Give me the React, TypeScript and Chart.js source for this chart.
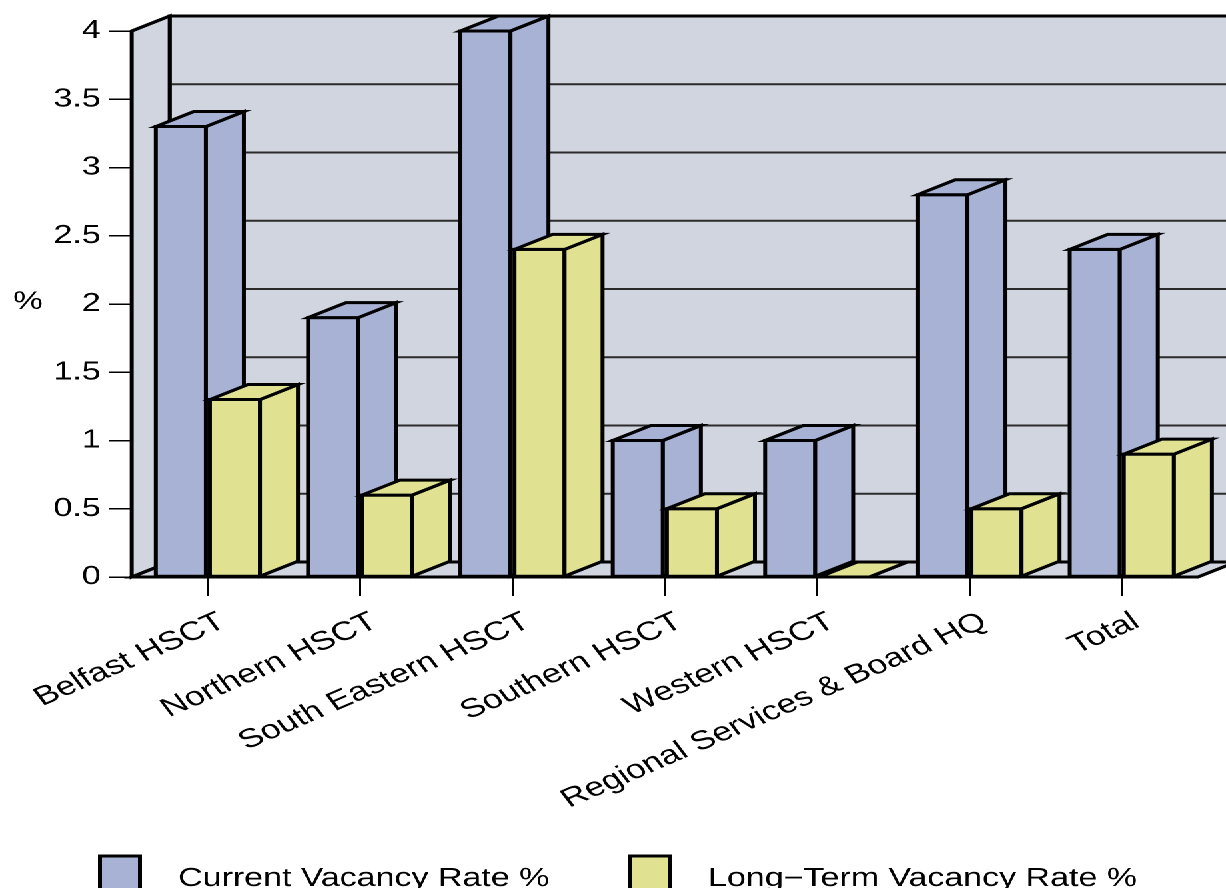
import React, { useEffect, useRef } from "react";
import { Chart, registerables } from "chart.js";

Chart.register(...registerables);

// ---- data ----
const categories = [
  "Belfast HSCT",
  "Northern HSCT",
  "South Eastern HSCT",
  "Southern HSCT",
  "Western HSCT",
  "Regional Services & Board HQ",
  "Total",
];
const currentRate = [3.3, 1.9, 4.0, 1.0, 1.0, 2.8, 2.4];
const longTermRate = [1.3, 0.6, 2.4, 0.5, 0.0, 0.5, 0.9];
const seriesNames = ["Current Vacancy Rate %", "Long\u2212Term Vacancy Rate %"];
const yTickValues = [0, 0.5, 1, 1.5, 2, 2.5, 3, 3.5, 4];
const yTickLabels = ["0", "0.5", "1", "1.5", "2", "2.5", "3", "3.5", "4"];
const yAxisTitle = "%";

// ---- style ----
const BASE_W = 920;
const H = 888;
const STRETCH = 1226 / BASE_W;
const DX = 28.5;
const DY = -15;
const WALL = "#D1D5E0";
const BLUE = "#A8B2D4";
const YELLOW = "#E0E291";
const FONT = "'Liberation Sans', Arial, sans-serif";
const seriesColors = [BLUE, YELLOW];

function poly(ctx: CanvasRenderingContext2D, pts: number[][], fill: string, lw = 3) {
  ctx.beginPath();
  ctx.moveTo(pts[0][0], pts[0][1]);
  for (let i = 1; i < pts.length; i++) ctx.lineTo(pts[i][0], pts[i][1]);
  ctx.closePath();
  ctx.fillStyle = fill;
  ctx.fill();
  ctx.lineWidth = lw;
  ctx.strokeStyle = "#000";
  ctx.stroke();
}

const threeD = {
  id: "threeD",
  beforeDatasetsDraw(chart: any) {
    const { ctx, chartArea } = chart;
    const { left, right, top, bottom } = chartArea;
    const y = chart.scales.y;
    ctx.save();
    ctx.lineJoin = "miter";
    // back wall
    poly(ctx, [
      [left + DX, top + DY],
      [right + DX, top + DY],
      [right + DX, bottom + DY],
      [left + DX, bottom + DY],
    ], WALL);
    // gridlines on back wall
    ctx.strokeStyle = "#2b2b2b";
    ctx.lineWidth = 2;
    for (const v of yTickValues) {
      if (v === 0 || v === 4) continue;
      const py = y.getPixelForValue(v) + DY;
      ctx.beginPath();
      ctx.moveTo(left + DX, py);
      ctx.lineTo(right + DX, py);
      ctx.stroke();
    }
    // left wall
    poly(ctx, [
      [left, top],
      [left + DX, top + DY],
      [left + DX, bottom + DY],
      [left, bottom],
    ], WALL);
    // floor
    poly(ctx, [
      [left, bottom],
      [right, bottom],
      [right + DX, bottom + DY],
      [left + DX, bottom + DY],
    ], WALL);
    ctx.restore();
  },
  afterDatasetsDraw(chart: any) {
    const { ctx } = chart;
    ctx.save();
    ctx.lineJoin = "miter";
    const metas = [chart.getDatasetMeta(0), chart.getDatasetMeta(1)];
    for (let i = 0; i < categories.length; i++) {
      for (let j = 0; j < metas.length; j++) {
        const el = metas[j].data[i];
        const { x, y, base, width } = el.getProps(["x", "y", "base", "width"], true);
        const l = x - width / 2;
        const r = x + width / 2;
        const c = seriesColors[j];
        poly(ctx, [[l, y], [r, y], [r, base], [l, base]], c);
        poly(ctx, [[r, base], [r + DX, base + DY], [r + DX, y + DY], [r, y]], c);
        poly(ctx, [[l, y], [l + DX, y + DY], [r + DX, y + DY], [r, y]], c);
      }
    }
    ctx.restore();
  },
  afterDraw(chart: any) {
    const { ctx } = chart;
    const y = chart.scales.y;
    ctx.save();
    ctx.fillStyle = "#000";
    ctx.font = `25px ${FONT}`;
    ctx.textAlign = "center";
    ctx.textBaseline = "middle";
    ctx.fillText(yAxisTitle, 21, y.getPixelForValue(2) - 2);
    // legend
    const boxes = [75, 472.5];
    const texts = [133.6, 531.3];
    ctx.font = `25.5px ${FONT}`;
    for (let j = 0; j < seriesNames.length; j++) {
      ctx.lineJoin = "miter";
      poly(ctx, [[boxes[j], 856], [boxes[j] + 30, 856], [boxes[j] + 30, 900], [boxes[j], 900]], seriesColors[j]);
      ctx.fillStyle = "#000";
      ctx.textAlign = "left";
      ctx.textBaseline = "alphabetic";
      ctx.fillText(seriesNames[j], texts[j], 886);
    }
    ctx.restore();
  },
};

export default function App() {
  const ref = useRef<HTMLCanvasElement>(null);
  useEffect(() => {
    const canvas = ref.current!;
    const chart = new Chart(canvas, {
      type: "bar",
      data: {
        labels: categories,
        datasets: [
          {
            label: seriesNames[0],
            data: currentRate,
            backgroundColor: "rgba(0,0,0,0)",
            borderWidth: 0,
            categoryPercentage: 0.71,
            barPercentage: 0.926,
          },
          {
            label: seriesNames[1],
            data: longTermRate,
            backgroundColor: "rgba(0,0,0,0)",
            borderWidth: 0,
            categoryPercentage: 0.71,
            barPercentage: 0.926,
          },
        ],
      },
      options: {
        responsive: false,
        animation: false,
        devicePixelRatio: 2,
        events: [],
        layout: { padding: { top: 31, right: 21, left: 0, bottom: 0 } },
        plugins: { legend: { display: false }, tooltip: { enabled: false } },
        scales: {
          x: {
            offset: true,
            grid: {
              display: true,
              offset: false,
              drawOnChartArea: false,
              drawTicks: true,
              tickLength: 19,
              color: "#000",
              lineWidth: 1.5,
            },
            border: { display: false },
            ticks: {
              autoSkip: false,
              maxRotation: 30,
              minRotation: 30,
              color: "#000",
              padding: 10,
              labelOffset: 11,
              font: { family: FONT, size: 26.5 },
            },
            afterFit(scale: any) {
              scale.height = H - 577;
            },
          },
          y: {
            min: 0,
            max: 4,
            grid: {
              display: true,
              drawOnChartArea: false,
              drawTicks: true,
              tickLength: 17.3,
              color: "#000",
              lineWidth: 1.5,
            },
            border: { display: false },
            afterBuildTicks(scale: any) {
              scale.ticks = yTickValues.map((v) => ({ value: v }));
            },
            ticks: {
              color: "#000",
              padding: 6,
              font: { family: FONT, size: 25.5 },
              callback: (value: any) => {
                const idx = yTickValues.indexOf(Number(value));
                return idx >= 0 ? yTickLabels[idx] : "";
              },
            },
            afterFit(scale: any) {
              scale.width = 97.5;
            },
          },
        },
      },
      plugins: [threeD],
    });
    return () => chart.destroy();
  }, []);
  return (
    <div
      style={{
        position: "fixed",
        left: 0,
        top: 0,
        width: BASE_W,
        height: H,
        overflow: "hidden",
        background: "#fff",
        transform: `scaleX(${STRETCH})`,
        transformOrigin: "0 0",
      }}
    >
      <canvas ref={ref} width={BASE_W} height={H} />
    </div>
  );
}
